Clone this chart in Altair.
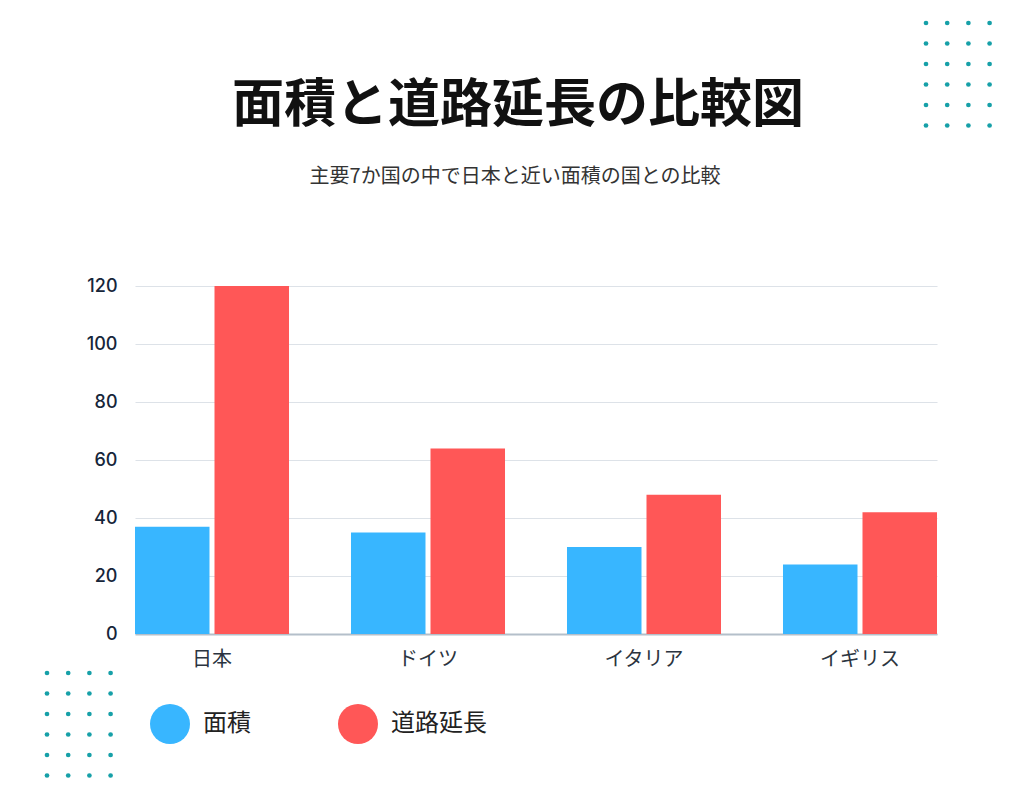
import altair as alt
import pandas as pd

countries = ["日本", "ドイツ", "イタリア", "イギリス"]
area = [37, 35, 30, 24]
road = [120, 64, 48, 42]
series = ["面積", "道路延長"]
colors = ["#38b6ff", "#ff5757"]
y_ticks = [0, 20, 40, 60, 80, 100, 120]
title_text = "面積と道路延長の比較図"
subtitle_text = "主要7か国の中で日本と近い面積の国との比較"
dot_cols = [0, 1, 2, 3]
dot_rows = [0, 1, 2, 3, 4, 5]

rows = []
for c, a, r in zip(countries, area, road):
    rows.append({"国": c, "系列": series[0], "値": a})
    rows.append({"国": c, "系列": series[1], "値": r})
df = pd.DataFrame(rows)

dots = pd.DataFrame([{"c": c, "r": r} for c in dot_cols for r in dot_rows])

JP = "Noto Sans CJK JP"
W, H = 802, 348

bars = alt.Chart(df).mark_bar().encode(
    x=alt.X("国:N", sort=countries,
            scale=alt.Scale(paddingInner=0.287, paddingOuter=0),
            axis=alt.Axis(title=None, labelAngle=0, labelFont=JP, labelFontSize=20,
                          labelColor="#2b3440", labelPadding=15, ticks=False,
                          domainColor="#b4bfca", domainWidth=2, grid=False)),
    xOffset=alt.XOffset("系列:N", sort=series,
                        scale=alt.Scale(paddingInner=0.063, paddingOuter=0)),
    y=alt.Y("値:Q", scale=alt.Scale(domain=[0, 120], nice=False),
            axis=alt.Axis(title=None, values=y_ticks, domain=False, ticks=False,
                          labelFont="Inter", labelFontSize=18, labelFontWeight=500,
                          labelColor="#16263a",
                          labelPadding=18, gridColor="#dde2e8", gridWidth=1.2)),
    color=alt.Color("系列:N", sort=series,
                    scale=alt.Scale(domain=series, range=colors),
                    legend=alt.Legend(title=None, orient="none", legendX=15, legendY=418,
                                      direction="horizontal", symbolType="circle",
                                      symbolSize=1600, symbolStrokeWidth=0,
                                      symbolOpacity=1, labelFont=JP, labelFontSize=24,
                                      labelColor="#222222", labelOffset=13,
                                      columnPadding=87, padding=0)),
)

def dot_layer(x0, y0):
    return alt.Chart(dots).transform_calculate(
        px=f"{x0} + 21.2 * datum.c", py=f"{y0} + 20.5 * datum.r"
    ).mark_circle(size=22, color="#16a0a8", opacity=1).encode(
        x=alt.X("px:Q", scale=None, axis=None),
        y=alt.Y("py:Q", scale=None, axis=None),
    )

dots_tr = dot_layer(791, -263)
dots_bl = dot_layer(-88, 387)

title = alt.Chart(pd.DataFrame({"t": [title_text]})).mark_text(
    font=JP, fontSize=52, fontWeight="bold", color="#111111",
    align="center", baseline="middle"
).encode(x=alt.value(383), y=alt.value(-180), text="t:N")

subtitle = alt.Chart(pd.DataFrame({"t": [subtitle_text]})).mark_text(
    font=JP, fontSize=20, color="#333333", align="center", baseline="middle"
).encode(x=alt.value(380), y=alt.value(-109), text="t:N")

chart = alt.layer(bars, dots_tr, dots_bl, title, subtitle).properties(
    width=W, height=H,
    autosize=alt.AutoSizeParams(type="none"),
    padding={"left": 127, "top": 278, "right": 79, "bottom": 166},
    background="white",
).configure_view(stroke=None)

chart.save("out.html", embed_options={"renderer": "svg", "actions": False})
